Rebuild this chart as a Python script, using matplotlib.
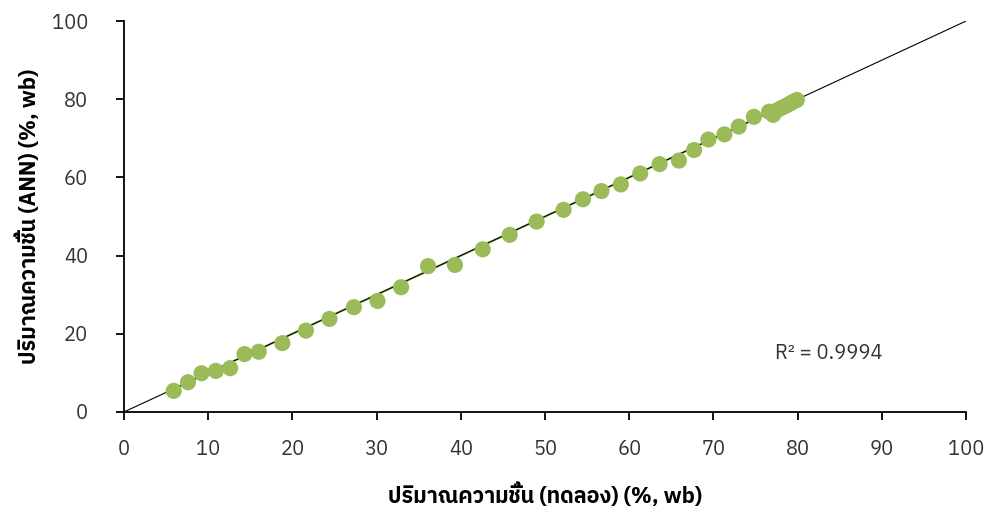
import matplotlib
matplotlib.use("Agg")
import matplotlib.pyplot as plt
from matplotlib import font_manager
from matplotlib.ft2font import FT2Font

# Data (experimental vs ANN predicted moisture content, % wb)
x_exp = [5.9, 7.6, 9.2, 10.9, 12.6, 14.3, 16.0, 18.8, 21.6, 24.4, 27.3, 30.1, 32.9,
         36.1, 39.3, 42.6, 45.8, 49.0, 52.2, 54.5, 56.7, 59.0, 61.3, 63.6, 65.9,
         67.7, 69.4, 71.3, 73.0, 74.8, 76.6, 77.1, 77.6, 78.1, 78.6, 79.1, 79.5, 79.9]
y_ann = [5.4, 7.6, 9.9, 10.5, 11.2, 14.8, 15.4, 17.6, 20.8, 23.8, 26.8, 28.4, 31.9,
         37.3, 37.6, 41.6, 45.3, 48.7, 51.7, 54.4, 56.5, 58.2, 61.0, 63.4, 64.3,
         67.0, 69.7, 71.0, 73.0, 75.5, 76.8, 76.0, 77.2, 77.8, 78.3, 78.9, 79.4, 79.8]
ticks = [0, 10, 20, 30, 40, 50, 60, 70, 80, 90, 100]
yticks = [0, 20, 40, 60, 80, 100]
line_ends = [0, 100]
xlabel = "ปริมาณความชื้น (ทดลอง) (%, wb)"
ylabel = "ปริมาณความชื้น (ANN) (%, wb)"
r2_text = "R² = 0.9994"

# find a font with Thai glyphs
thai_family = None
for f in font_manager.fontManager.ttflist:
    try:
        cm = FT2Font(f.fname).get_charmap()
        if 0x0E1B in cm and 0x0E04 in cm:
            thai_family = f.name
            if "Sans" in f.name or "Tahoma" in f.name:
                break
    except Exception:
        pass
families = ([thai_family] if thai_family else []) + ["DejaVu Sans"]
plt.rcParams['font.family'] = families

fig = plt.figure(figsize=(9.86, 5.13), dpi=100)
ax = fig.add_axes([0.1258, 0.197, 0.854, 0.762])

ax.plot([min(x_exp), max(x_exp)], [min(x_exp), max(x_exp)], color="#9BBB59", lw=1.6, zorder=1)
ax.plot(line_ends, line_ends, color="black", lw=0.8, zorder=2)
ax.scatter(x_exp, y_ann, s=135, color="#9BBB59", edgecolors="none", zorder=3)

ax.set_xlim(0, 100)
ax.set_ylim(0, 100)
ax.set_xticks(ticks)
ax.set_yticks(yticks)
for s in ["top", "right"]:
    ax.spines[s].set_visible(False)
for s in ["left", "bottom"]:
    ax.spines[s].set_linewidth(1.3)
    ax.spines[s].set_color("black")
ax.tick_params(axis="both", direction="out", length=6, width=1.3,
               labelsize=14.5, labelcolor="#333333")
ax.tick_params(axis="x", pad=14)
ax.tick_params(axis="y", pad=20)

ax.set_xlabel(xlabel, fontsize=15.5, fontweight="bold", labelpad=17)
ax.set_ylabel(ylabel, fontsize=15.5, fontweight="bold", labelpad=8)
ax.text(77.3, 15, r2_text, fontsize=14.5, color="#333333", va="center", ha="left")

fig.savefig("out.png", dpi=100)
